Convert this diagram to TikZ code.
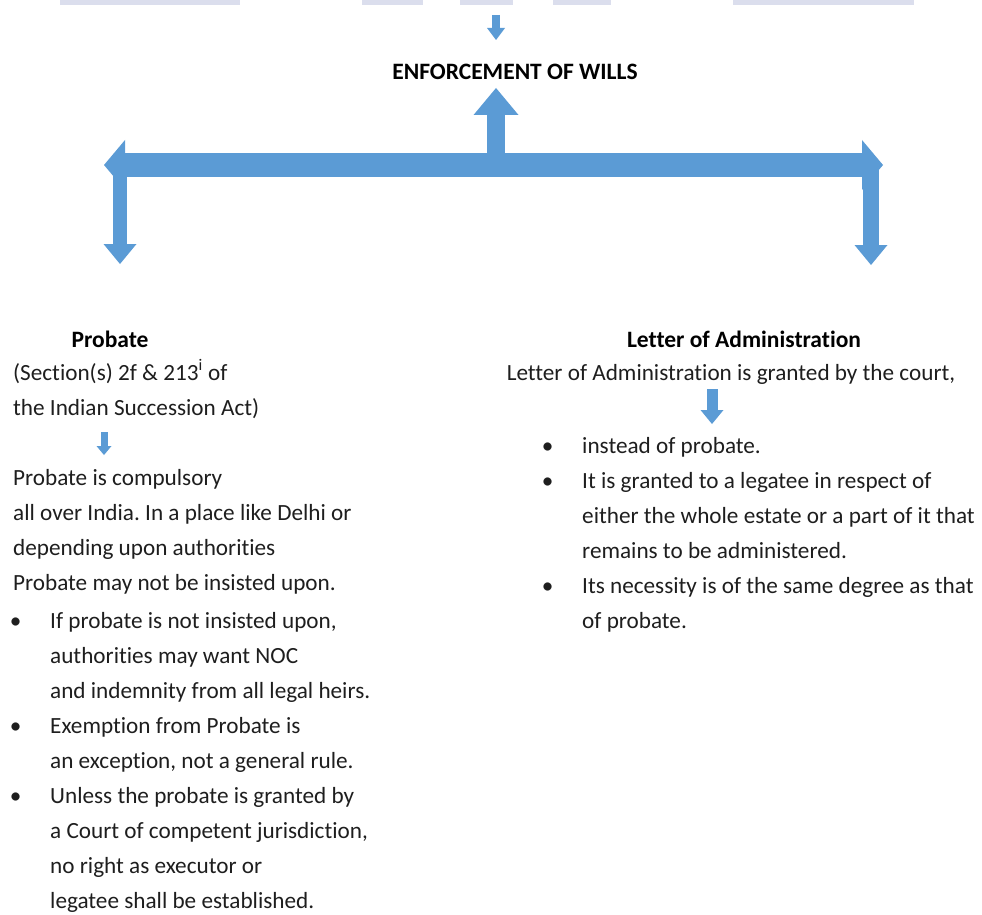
\documentclass[tikz,border=0pt]{standalone}
\usepackage{fontspec}
\setmainfont{Carlito}[Ligatures=CommonOff]
\usetikzlibrary{arrows.meta}
\frenchspacing

\definecolor{arrowblue}{RGB}{91,155,213}
\definecolor{wmark}{RGB}{219,222,237}
\definecolor{bodytext}{RGB}{30,30,30}

\newcommand{\blt}{\llap{\makebox[10pt]{\textbullet}\hspace{29.5pt}}}

\begin{document}
\begin{tikzpicture}[
    x=1pt, y=-1pt,
    blockarr/.style n args={3}{draw=arrowblue, line width=#1,
        -{Triangle[length=#2, width=#3, line width=0pt]}},
    dblarr/.style n args={3}{draw=arrowblue, line width=#1,
        {Triangle[length=#2, width=#3, line width=0pt]}-{Triangle[length=#2, width=#3, line width=0pt]}},
    title/.style={font=\fontsize{23.5}{35}\selectfont\bfseries, text=black,
        inner sep=0pt, anchor=base},
    body/.style={font=\fontsize{23.2}{35}\selectfont, text=bodytext,
        inner sep=0pt, align=left, anchor=base west}
]
\useasboundingbox (0,0) rectangle (982,915);

% faint strip along the top edge
\foreach \a/\b in {60/240, 362/423, 460/513, 553/611, 733/914}
    \fill[wmark] (\a,0) rectangle (\b,5);

\node[title] (enforce) at (515,80) {ENFORCEMENT OF WILLS};
\node[title] (probate) at (110,347) {Probate};
\node[title] (letter)  at (744,347) {Letter of Administration};

%------------------------------------------------
% Probate  (multi-line nodes sit on their last baseline)
%------------------------------------------------
\node[body] (section) at (13,415)
    {(Section(s) 2f \& 213\textsuperscript{i} of\\the Indian Succession Act)};

\node[body] (compulsory) at (13,590)
    {Probate is compulsory\\
     all over India. In a place like Delhi or\\
     depending upon authorities\\
     Probate may not be insisted upon.};

\node[body] (probpts) at (50,908)
    {\blt If probate is not insisted upon,\\
     authorities may want NOC\\
     and indemnity from all legal heirs.\\
     \blt Exemption from Probate is\\
     an exception, not a general rule.\\
     \blt Unless the probate is granted by\\
     a Court of competent jurisdiction,\\
     no right as executor or\\
     legatee shall be established.};

%------------------------------------------------
% Letter of Administration
%------------------------------------------------
\node[body, anchor=base] (granted) at (731,380)
    {Letter of Administration is granted by the court,};

\node[body] (letpts) at (582,628)
    {\blt instead of probate.\\
     \blt It is granted to a legatee in respect of\\
     either the whole estate or a part of it that\\
     remains to be administered.\\
     \blt Its necessity is of the same degree as that\\
     of probate.};

%------------------------------------------------
% block arrows
%------------------------------------------------
\coordinate (topin)  at (496,15);
\coordinate (topout) at (496,40);
\coordinate (hubL)   at (104,165);
\coordinate (hubR)   at (883,165);
\coordinate (hub)    at (496,165);
\coordinate (upend)  at (496,88);
\coordinate (dropL)  at (120,168);
\coordinate (dropR)  at (871,168);
\coordinate (endL)   at (120,264);
\coordinate (endR)   at (871,265);
\coordinate (secout) at (104,432);
\coordinate (secin)  at (104,455);
\coordinate (grout)  at (712,389);
\coordinate (grin)   at (712,424);

\draw[blockarr={8pt}{12pt}{18pt}] (topin) -- (topout);
\draw[dblarr={24pt}{21pt}{50pt}] (hubL) -- (hubR);
\draw[blockarr={18pt}{27pt}{45pt}] (hub) -- (upend);
\draw[blockarr={14pt}{20pt}{33pt}] (dropL) -- (endL);
\draw[blockarr={16pt}{20pt}{33pt}] (dropR) -- (endR);
\draw[blockarr={7pt}{9pt}{15pt}] (secout) -- (secin);
\draw[blockarr={11pt}{14pt}{23pt}] (grout) -- (grin);

\end{tikzpicture}
\end{document}
